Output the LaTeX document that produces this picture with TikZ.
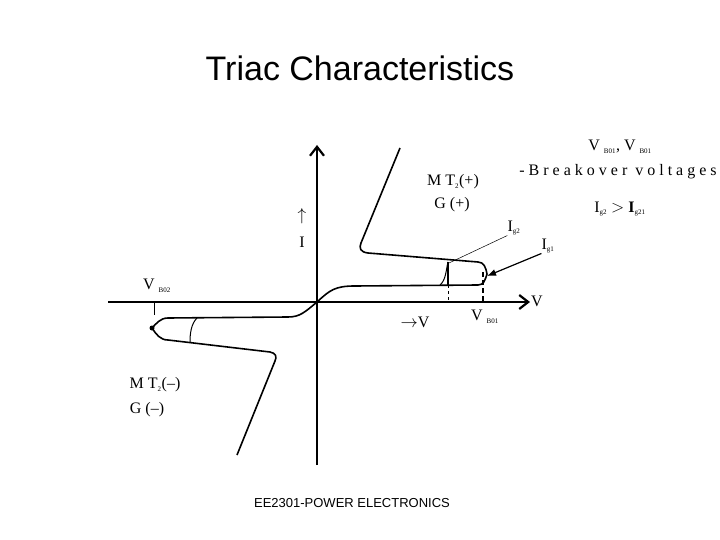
\documentclass[tikz,border=0pt]{standalone}
\usepackage{fontspec}
\setmainfont{Liberation Serif}
\newfontfamily\arialf{Liberation Sans}
\usetikzlibrary{arrows.meta}
\begin{document}
\begin{tikzpicture}[x=1pt,y=-1pt,
  axis/.style={line width=2.2pt,-{Straight Barb[length=9pt,width=14pt]}},
  curve/.style={line width=1.6pt,line join=round},
  lbl/.style={font=\fontsize{16}{18}\selectfont,inner sep=0pt}]
\useasboundingbox[fill=white] (0,0) rectangle (720,540);
\node[font=\arialf\fontsize{34}{40}\selectfont] (title) at (360,68) {Triac Characteristics};
\node[font=\arialf\fontsize{13}{15}\selectfont] (foot) at (352,503) {EE2301-POWER ELECTRONICS};
% axes
\coordinate (o) at (317,302);
\coordinate (xl) at (108,302); \coordinate (xr) at (530,302);
\coordinate (yb) at (317,465); \coordinate (yt) at (317,145);
\draw[axis] (xl) -- (xr);
\draw[axis] (yb) -- (yt);
% positive quadrant
\draw[curve] (o) .. controls (330,290) and (335,286) .. (355,286) -- (478,285) .. controls (484,285) and (485,280) .. (487,274);
\draw[curve] (487,274) .. controls (486,268) and (484,262) .. (478,262) -- (368,253) .. controls (360,252) and (359,248) .. (361,243) -- (400,148);
\draw[line width=1pt] (440,285) .. controls (446,280) and (446,270) .. (448,262);
\draw[line width=2.2pt] (448,262) -- (448,285);
\draw[dashed,line width=0.6pt] (448,285) -- (448,302);
\draw[line width=2.4pt,dashed,dash pattern=on 5pt off 3pt] (483,272) -- (483,302);
\node[lbl] (ig2) at (514,228) {I\textsubscript{\scriptsize g2}};
\node[lbl] (ig1) at (548,246) {I\textsubscript{\scriptsize g1}};
\draw[line width=0.5pt] (449,263) -- (ig2.south west);
\draw[line width=1.2pt,-{Latex[length=9pt,width=7pt]}] (ig1.south west) -- (487,276);
% negative quadrant
\draw[curve] (o) .. controls (305,312) and (300,317) .. (288,317) -- (168,318) .. controls (160,318) and (156,324) .. (152,328);
\draw[curve] (152,328) .. controls (156,334) and (160,340) .. (168,340) -- (270,352) .. controls (276,353) and (277,357) .. (275,361) -- (237,455);
\fill (152,328) circle (2.5pt);
\draw[line width=1pt] (197,318) .. controls (191,324) and (190,334) .. (190,342);
\draw[line width=0.6pt] (154,302) -- (154,315);
% labels
\node[lbl] (vb02) at (157,286) {V \textsubscript{\scriptsize B02}};
\node[lbl] (mtn) at (155,385) {M T\textsubscript{\scriptsize 2}(--)};
\node[lbl] (gn) at (147,410) {G (--)};
\node[lbl] (mtp) at (453,182) {M T\textsubscript{\scriptsize 2}(+)};
\node[lbl] (gp) at (452,205) {G (+)};
\node[lbl] (iarr) at (302,216) {$\uparrow$};
\node[lbl] (il) at (302,242) {I};
\node[lbl] (vbig) at (537,301) {V};
\node[lbl] (vsm) at (415,322) {$\rightarrow$V};
\node[lbl] (vb01) at (485,317) {V \textsubscript{\scriptsize B01}};
\node[lbl] (r1) at (620,147) {V \textsubscript{\scriptsize B01}, V \textsubscript{\scriptsize B01}};
\node[lbl] (r2) at (618,172) {- B r e a k o v e r\ \ v o l t a g e s};
\node[lbl] (r3) at (620,209) {I\textsubscript{\scriptsize g2} $>$ \textbf{I}\textsubscript{\scriptsize g21}};
\end{tikzpicture}
\end{document}
